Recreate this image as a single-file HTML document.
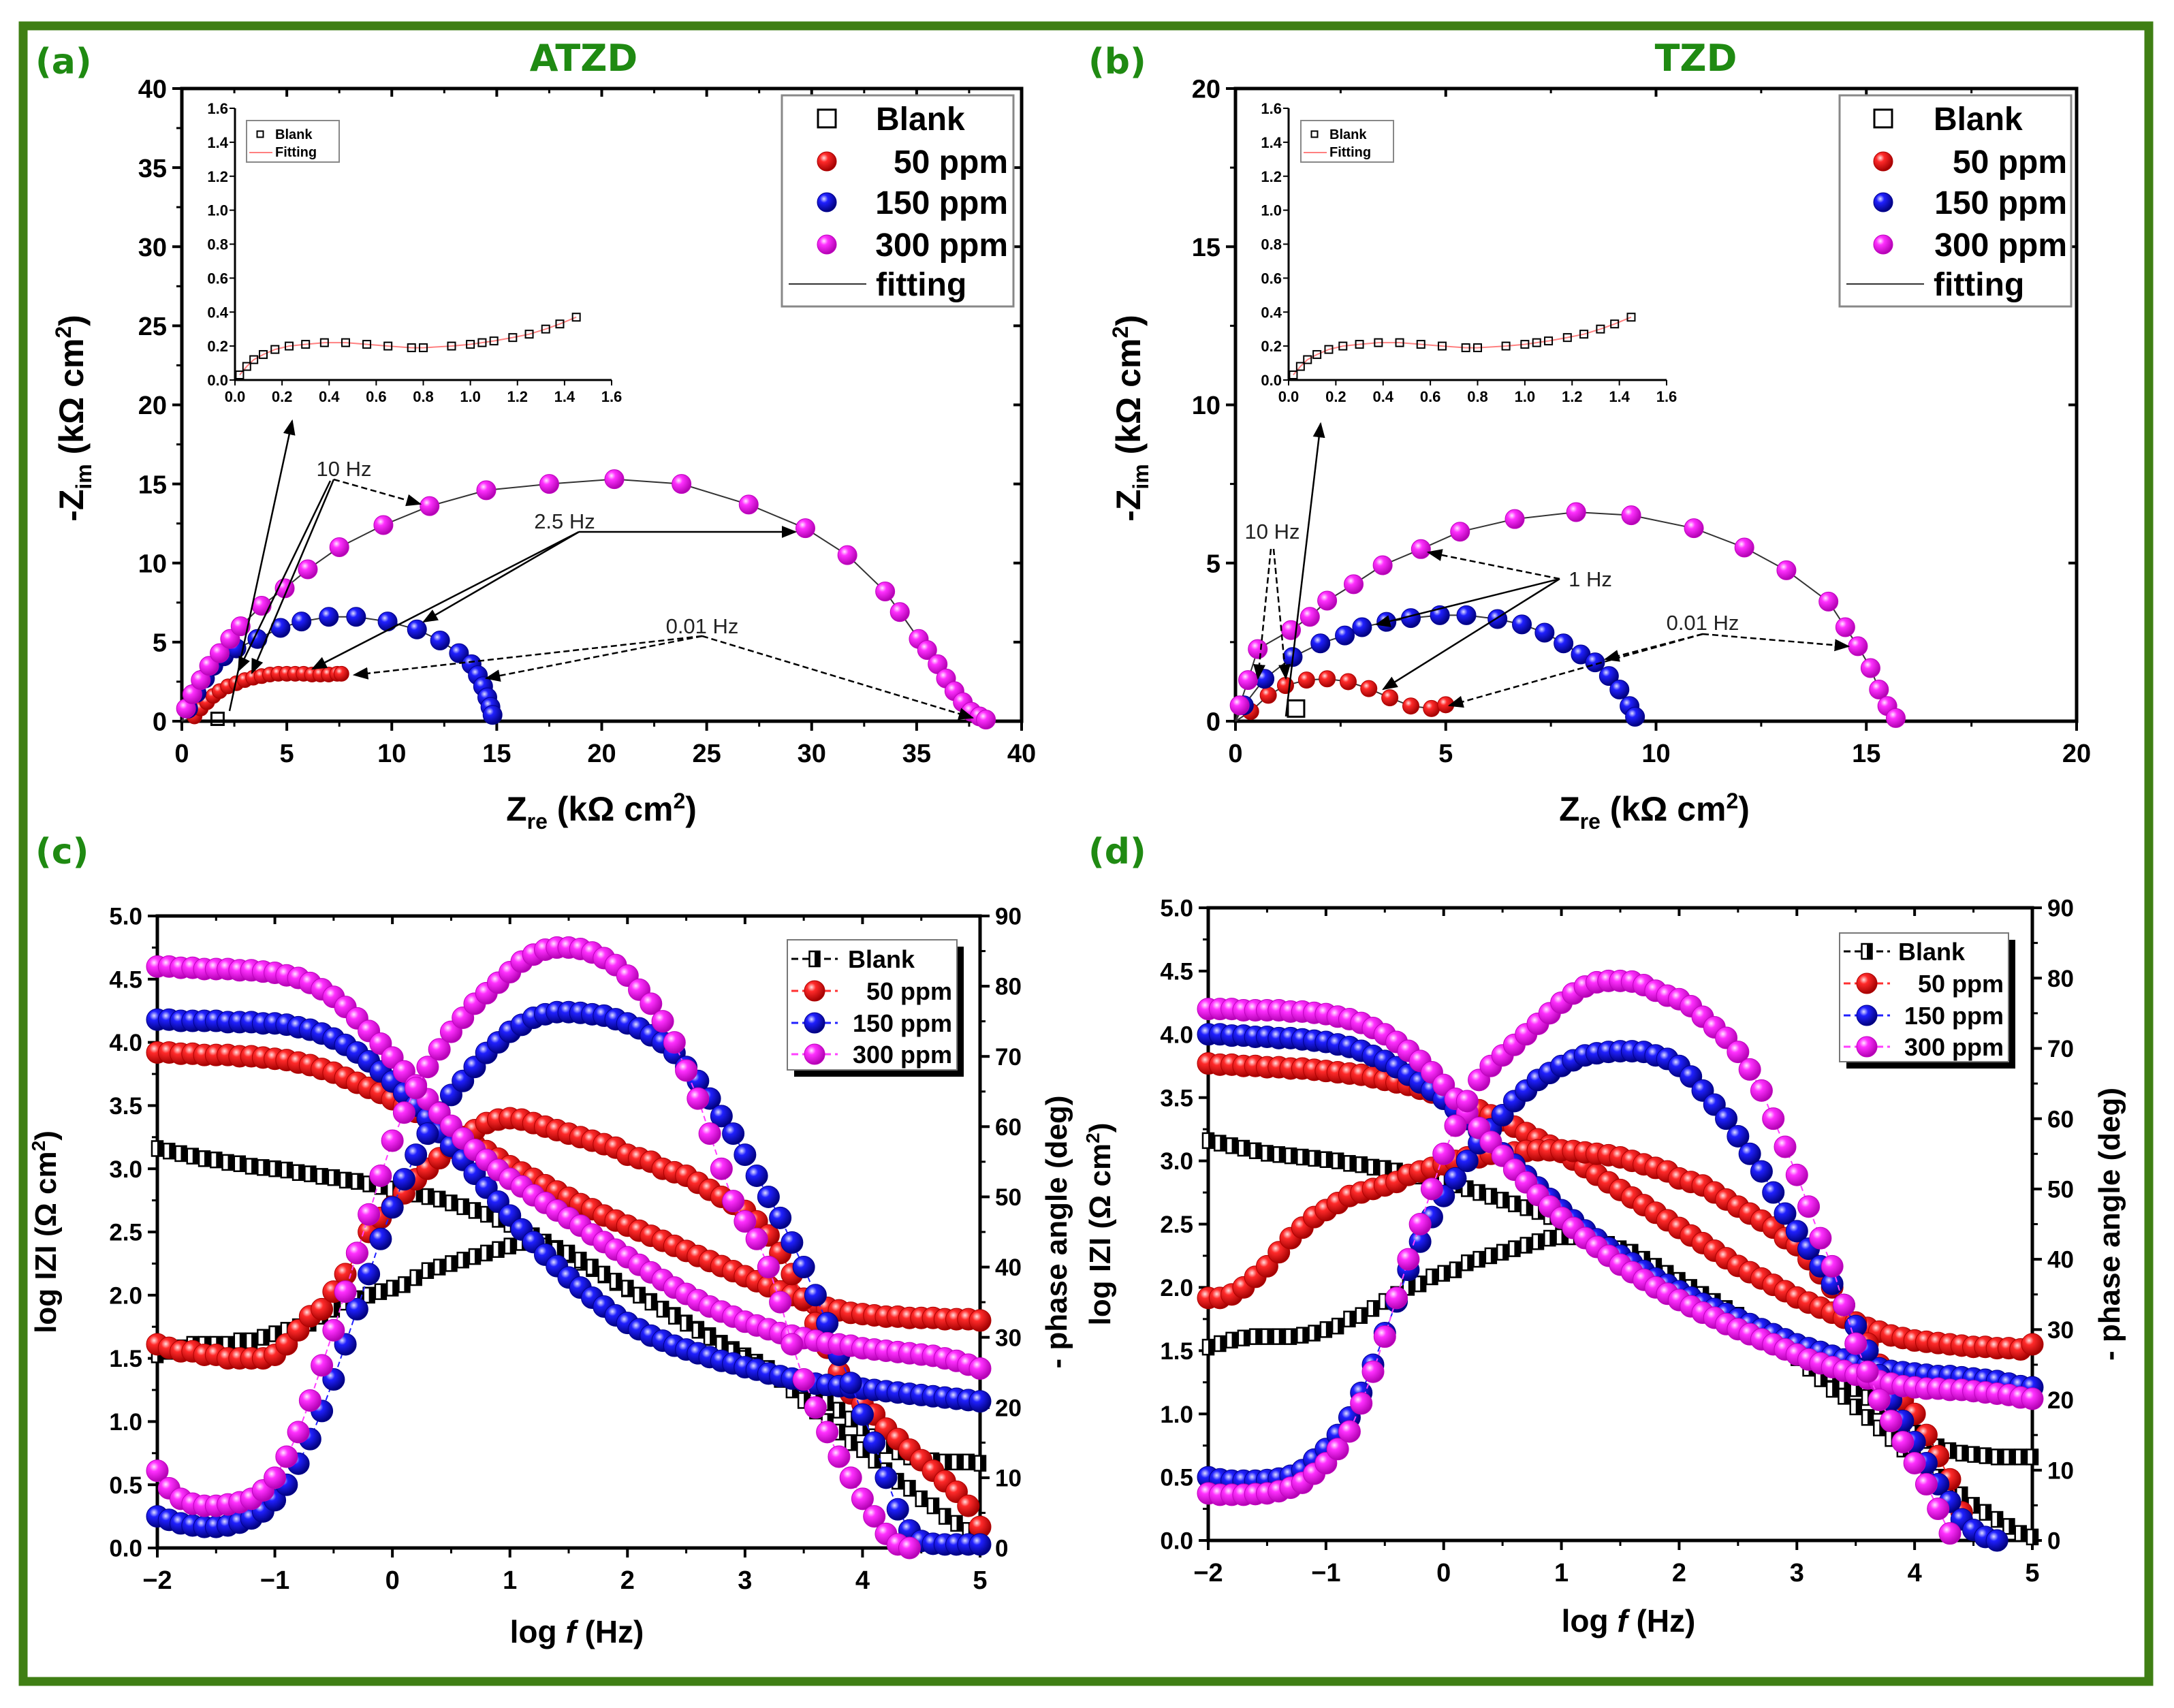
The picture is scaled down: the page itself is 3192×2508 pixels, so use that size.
<!DOCTYPE html>
<html><head><meta charset="utf-8"><title>EIS plots ATZD / TZD</title>
<style>
html,body{margin:0;padding:0;background:#fff;}
svg{display:block;font-family:"Liberation Sans",Arial,sans-serif;}
</style></head>
<body>
<svg id="fig" xmlns="http://www.w3.org/2000/svg" width="3192" height="2508" viewBox="0 0 3192 2508">
<defs>
<radialGradient id="gR" cx="35%" cy="32%" r="70%"><stop offset="0" stop-color="#ffe0e0"/><stop offset="0.3" stop-color="#ff2a2a"/><stop offset="1" stop-color="#a00000"/></radialGradient>
<radialGradient id="gB" cx="35%" cy="32%" r="70%"><stop offset="0" stop-color="#e0e0ff"/><stop offset="0.3" stop-color="#2020ff"/><stop offset="1" stop-color="#00007a"/></radialGradient>
<radialGradient id="gM" cx="35%" cy="32%" r="70%"><stop offset="0" stop-color="#ffe8ff"/><stop offset="0.3" stop-color="#ff30ff"/><stop offset="1" stop-color="#b000b0"/></radialGradient>
<marker id="arr" viewBox="0 0 10 10" refX="9" refY="5" markerWidth="9" markerHeight="9" orient="auto-start-reverse"><path d="M0,1 L10,5 L0,9 z" fill="#000"/></marker>
</defs>
<rect x="34" y="38" width="3121" height="2431" fill="none" stroke="#3f7f14" stroke-width="13"/>
<text x="52" y="108" font-family="DejaVu Sans" font-weight="bold" font-size="52" fill="#1f8a12">(a)</text>
<text x="857" y="104" text-anchor="middle" font-family="DejaVu Sans" font-weight="bold" font-size="54" fill="#1f8a12">ATZD</text>
<text x="1598" y="108" font-family="DejaVu Sans" font-weight="bold" font-size="52" fill="#1f8a12">(b)</text>
<text x="2490" y="104" text-anchor="middle" font-family="DejaVu Sans" font-weight="bold" font-size="54" fill="#1f8a12">TZD</text>
<text x="52" y="1268" font-family="DejaVu Sans" font-weight="bold" font-size="52" fill="#1f8a12">(c)</text>
<text x="1598" y="1268" font-family="DejaVu Sans" font-weight="bold" font-size="52" fill="#1f8a12">(d)</text>
</svg>
<script>
// ---------- DATA ----------
const aBlankX=[1.7];
const aBlankY=[0.15];
const a50X=[0.6,0.9,1.2,1.5,1.8,2.2,2.6,3.0,3.4,3.8,4.2,4.6,5.0,5.4,5.8,6.2,6.6,7.0,7.4,7.6];
const a50Y=[0.3,0.8,1.2,1.6,1.9,2.2,2.4,2.6,2.75,2.85,2.95,3.0,3.0,3.0,3.0,2.95,2.95,2.95,3.0,3.0];
const a150X=[0.3,0.7,1.1,1.5,2.0,2.6,3.6,4.7,5.7,7.0,8.3,9.8,11.2,12.3,13.2,13.8,14.1,14.35,14.55,14.7,14.8];
const a150Y=[0.8,1.8,2.7,3.5,4.1,4.6,5.2,5.9,6.3,6.6,6.6,6.3,5.8,5.1,4.3,3.6,2.9,2.2,1.5,0.9,0.4];
const a300X=[0.2,0.5,0.9,1.3,1.8,2.3,2.8,3.8,4.9,6.0,7.5,9.6,11.8,14.5,17.5,20.6,23.8,27.0,29.7,31.7,33.5,34.2,35.1,35.5,36.0,36.4,36.8,37.2,37.6,38.0,38.3];
const a300Y=[0.8,1.7,2.6,3.5,4.3,5.2,6.0,7.3,8.4,9.6,11.0,12.4,13.6,14.6,15.0,15.3,15.0,13.7,12.2,10.5,8.2,6.9,5.2,4.5,3.6,2.7,1.9,1.2,0.6,0.3,0.1];
const bBlankX=[1.44];
const bBlankY=[0.4];
const b50X=[0.36,0.78,1.19,1.69,2.18,2.68,3.17,3.67,4.17,4.66,5.0];
const b50Y=[0.31,0.82,1.13,1.30,1.34,1.25,1.03,0.74,0.48,0.40,0.52];
const b150X=[0.2,0.69,1.36,2.02,2.60,3.01,3.59,4.17,4.86,5.49,6.23,6.81,7.35,7.80,8.21,8.55,8.88,9.13,9.37,9.50];
const b150Y=[0.5,1.34,2.03,2.46,2.71,2.97,3.14,3.26,3.35,3.35,3.23,3.06,2.80,2.46,2.11,1.86,1.43,1.00,0.48,0.14];
const b300X=[0.1,0.3,0.53,1.32,1.77,2.18,2.81,3.50,4.41,5.34,6.64,8.10,9.41,10.9,12.1,13.1,14.1,14.5,14.8,15.1,15.3,15.5,15.7];
const b300Y=[0.5,1.3,2.28,2.88,3.30,3.81,4.33,4.93,5.44,5.99,6.39,6.61,6.51,6.10,5.49,4.77,3.78,2.97,2.37,1.68,1.00,0.48,0.10];
const insetX=[0.02,0.05,0.08,0.12,0.17,0.23,0.3,0.38,0.47,0.56,0.65,0.75,0.8,0.92,1.0,1.05,1.1,1.18,1.25,1.32,1.38,1.45];
const insetY=[0.03,0.08,0.12,0.15,0.18,0.2,0.21,0.22,0.22,0.21,0.2,0.19,0.19,0.2,0.21,0.22,0.23,0.25,0.27,0.3,0.33,0.37];
const logF=[-2,-1.9,-1.8,-1.7,-1.6,-1.5,-1.4,-1.3,-1.2,-1.1,-1,-0.9,-0.8,-0.7,-0.6,-0.5,-0.4,-0.3,-0.2,-0.1,0,0.1,0.2,0.3,0.4,0.5,0.6,0.7,0.8,0.9,1,1.1,1.2,1.3,1.4,1.5,1.6,1.7,1.8,1.9,2,2.1,2.2,2.3,2.4,2.5,2.6,2.7,2.8,2.9,3,3.1,3.2,3.3,3.4,3.5,3.6,3.7,3.8,3.9,4,4.1,4.2,4.3,4.4,4.5,4.6,4.7,4.8,4.9,5];
const cBlankZ=[3.16,3.14,3.12,3.10,3.08,3.07,3.05,3.04,3.02,3.01,3.00,2.99,2.97,2.96,2.94,2.93,2.91,2.90,2.88,2.86,2.84,2.82,2.80,2.78,2.76,2.73,2.70,2.67,2.64,2.60,2.56,2.52,2.47,2.42,2.37,2.32,2.26,2.21,2.16,2.10,2.05,2.00,1.95,1.89,1.84,1.78,1.73,1.68,1.62,1.57,1.52,1.47,1.42,1.37,1.31,1.26,1.21,1.15,1.09,1.02,0.95,0.88,0.81,0.76,0.72,0.70,0.69,0.68,0.68,0.68,0.67];
const cBlankP=[27.5,28,28.5,29,29,29,29,29.5,29.5,30,30.5,31,31.5,32,33,34,35,35.5,36,36.5,37,37.5,38.5,39.5,40,40.5,41,41.5,42,42.5,43,43.5,43.5,43,42.5,42,41,40,39,38,37,36,35,34,33,32,31,30,29,28,27,26,25,24,22.5,21,19.5,18,16.5,15,14,12.5,11,9.5,8.5,7,6,4.5,3.5,2.5,1.5];
const c50Z=[3.92,3.92,3.91,3.91,3.90,3.90,3.90,3.89,3.89,3.88,3.87,3.86,3.84,3.82,3.79,3.76,3.72,3.68,3.64,3.60,3.55,3.50,3.45,3.40,3.35,3.30,3.25,3.19,3.14,3.08,3.02,2.97,2.92,2.87,2.82,2.77,2.72,2.68,2.63,2.59,2.55,2.51,2.47,2.43,2.39,2.35,2.31,2.27,2.23,2.19,2.15,2.11,2.07,2.03,2.00,1.96,1.93,1.90,1.88,1.86,1.85,1.84,1.83,1.83,1.82,1.82,1.82,1.81,1.81,1.81,1.80];
const c50P=[29,28.5,28,28,27.5,27.5,27,27,27,27,27.5,29,31,33,34,36.5,39,42,45,47,48.6,50.5,52.5,54,55.5,57,58.5,59.5,60.5,61,61.2,61,60.5,60,59.5,59,58.5,58,57.5,57,56,55.5,55,54,53.5,53,52,51,50,49,48,46.5,44.5,42,39,35.5,32,28.5,25,22,20.5,19,17,15.5,14,12.5,11,9.5,8,6,3];
const c150Z=[4.18,4.18,4.17,4.17,4.17,4.17,4.16,4.16,4.16,4.15,4.15,4.14,4.12,4.10,4.07,4.03,3.98,3.92,3.85,3.77,3.69,3.60,3.50,3.40,3.29,3.18,3.07,2.96,2.85,2.74,2.63,2.52,2.42,2.32,2.23,2.14,2.06,1.98,1.91,1.84,1.78,1.73,1.68,1.64,1.60,1.57,1.54,1.51,1.48,1.46,1.43,1.41,1.38,1.36,1.34,1.32,1.30,1.29,1.28,1.27,1.26,1.25,1.24,1.23,1.22,1.21,1.20,1.19,1.18,1.17,1.16];
const c150P=[4.5,4,3.5,3.2,3,3,3.2,3.6,4.2,5.2,6.8,9,12,15.5,19.5,24,29,34,39,44,48.5,52.5,56,59,62,64.5,66.5,68.5,70.5,72,73.5,74.5,75.5,76,76.3,76.3,76.2,76,75.8,75.3,74.7,74,73,72,70.5,68.5,66.5,64,61.5,59,56,53,50,47,43.5,40,36,32,27.5,23.5,19,15,10,5.5,2.5,1,0.6,0.5,0.5,0.5,0.5];
const c300Z=[4.60,4.60,4.59,4.59,4.58,4.58,4.58,4.57,4.57,4.56,4.55,4.53,4.51,4.47,4.42,4.36,4.28,4.19,4.09,3.99,3.88,3.77,3.66,3.55,3.44,3.34,3.24,3.15,3.07,2.99,2.92,2.86,2.79,2.73,2.67,2.61,2.55,2.48,2.42,2.36,2.30,2.24,2.18,2.12,2.06,2.01,1.96,1.91,1.87,1.83,1.79,1.76,1.73,1.70,1.68,1.66,1.64,1.62,1.61,1.60,1.58,1.57,1.56,1.55,1.54,1.53,1.52,1.50,1.48,1.45,1.42];
const c300P=[11,8.5,7,6.3,6,6,6.2,6.5,7,8.2,10,13,16.5,21,26,31,36.5,42,47.5,53,58,62,65.5,68.5,71,73.5,75.5,77.5,79,80.5,82,83.5,84.5,85.2,85.5,85.5,85.3,84.8,84,83,81.5,79.5,77.5,75,72,68,64,59,54,49.4,46.5,44,40,35,29,24,20,16.5,13,10,7,4.5,2,0.5,0,null,null,null,null,null,null];
const dBlankZ=[3.16,3.14,3.12,3.10,3.08,3.06,3.05,3.04,3.03,3.02,3.01,3.00,2.98,2.97,2.95,2.94,2.92,2.90,2.88,2.86,2.84,2.81,2.78,2.75,2.72,2.69,2.66,2.63,2.60,2.56,2.52,2.48,2.44,2.39,2.34,2.29,2.24,2.19,2.13,2.08,2.03,1.98,1.93,1.88,1.83,1.78,1.72,1.67,1.62,1.56,1.50,1.44,1.38,1.32,1.26,1.20,1.13,1.06,0.99,0.92,0.85,0.79,0.74,0.71,0.69,0.68,0.67,0.66,0.66,0.66,0.66];
const dBlankP=[27.5,28,28.5,28.8,29,29,29,29,29.2,29.5,30,30.5,31.5,32,33,34,35,36,36.5,37.5,38,38.5,39.5,40,40.5,41,41.5,42,42.5,43,43.2,43.2,43,42.5,42,41.5,41,40,39,38,37,36,35,34,33,31.5,30.5,29.5,28,27,26,24.5,23,21.5,20.5,19,17.5,16,14.5,13,11.5,10,9,7.5,6.5,5,4,3,2,1,0.5];
const d50Z=[3.77,3.76,3.76,3.75,3.75,3.74,3.74,3.73,3.73,3.72,3.71,3.70,3.69,3.68,3.66,3.64,3.62,3.60,3.57,3.54,3.51,3.48,3.44,3.40,3.36,3.32,3.27,3.22,3.17,3.12,3.07,3.01,2.95,2.89,2.83,2.77,2.71,2.65,2.59,2.53,2.47,2.41,2.35,2.29,2.23,2.17,2.12,2.07,2.02,1.97,1.92,1.88,1.84,1.80,1.76,1.72,1.68,1.65,1.62,1.60,1.58,1.57,1.56,1.55,1.54,1.53,1.53,1.52,1.52,1.51,1.55];
const d50P=[34.5,34.5,35,36,37.5,39,41,43,44.5,46,47,48,49,49.5,50,50.5,51,52,52.5,53,53.5,54,54.5,54.5,55,55,55.2,55.4,55.5,55.5,55.5,55.4,55.2,55,54.8,54.5,54,53.5,53,52.5,51.5,51,50.5,49.5,48.5,47.5,46.5,45.5,44.5,43,42,40,38,36,33.5,31,28,25,22,20,18,15,12,8.7,4,null,null,null,null,null,null];
const d150Z=[4.00,4.00,3.99,3.99,3.98,3.98,3.97,3.97,3.96,3.95,3.94,3.92,3.90,3.87,3.83,3.79,3.74,3.68,3.62,3.56,3.49,3.41,3.33,3.24,3.15,3.06,2.97,2.88,2.79,2.70,2.61,2.53,2.45,2.38,2.31,2.25,2.19,2.13,2.07,2.02,1.97,1.92,1.87,1.83,1.79,1.75,1.71,1.67,1.63,1.59,1.55,1.52,1.49,1.46,1.43,1.40,1.38,1.36,1.34,1.33,1.32,1.31,1.30,1.30,1.29,1.28,1.27,1.26,1.24,1.22,1.21];
const d150P=[9,8.7,8.5,8.5,8.5,8.6,8.8,9.2,10,11.5,13,15,17.5,21,25,29.5,34,38.5,42.5,46,49,51.5,54,56.5,58.5,60.5,62.5,64,65.5,66.5,67.5,68.3,69,69.3,69.5,69.6,69.6,69.5,69,68.5,67.5,66,64,62,60,57.5,55,52.5,49.5,46.5,44,41.5,39,36.5,33.5,30.5,27,23.5,20,17,14,11,8,5.5,3,1.5,0.5,0,null,null,null];
const d300Z=[4.20,4.20,4.20,4.19,4.19,4.19,4.19,4.18,4.18,4.17,4.16,4.14,4.12,4.09,4.05,4.00,3.94,3.87,3.79,3.70,3.60,3.49,3.38,3.26,3.15,3.04,2.93,2.83,2.73,2.64,2.55,2.47,2.39,2.32,2.25,2.18,2.12,2.06,2.00,1.95,1.90,1.85,1.80,1.76,1.71,1.67,1.63,1.59,1.55,1.51,1.47,1.43,1.40,1.37,1.34,1.31,1.28,1.26,1.24,1.22,1.21,1.20,1.20,1.19,1.19,1.18,1.17,1.16,1.15,1.13,1.12];
const d300P=[6.7,6.5,6.5,6.5,6.6,6.7,7,7.5,8.2,9.5,11,13,15.5,19.5,24,29,34.5,40,45,50,55,59,62.5,65.5,67.5,69,70.5,72,73.5,75,76.5,77.8,78.8,79.4,79.6,79.6,79.5,79,78.2,77.5,77,76,74.5,73,71.5,69.5,67,64,60,56,52,47.5,43,39,33.5,28,24,20,17,14,11,8,4.5,1,null,null,null,null,null,null,null];
const nyqATicks=[0,5,10,15,20,25,30,35,40];
const nyqBTicks=[0,5,10,15,20];
const insetTicks=[0,0.2,0.4,0.6,0.8,1.0,1.2,1.4,1.6];
const bodeXTicks=[-2,-1,0,1,2,3,4,5];
const bodeZTicks=[0,0.5,1,1.5,2,2.5,3,3.5,4,4.5,5];
const bodePTicks=[0,10,20,30,40,50,60,70,80,90];
const seriesNames=['Blank','50 ppm','150 ppm','300 ppm'];

// ---------- HELPERS ----------
const NS='http://www.w3.org/2000/svg';
const svg=document.getElementById('fig');
function mk(parent,tag,attrs,text){const e=document.createElementNS(NS,tag);for(const k in attrs)e.setAttribute(k,attrs[k]);if(text!=null)e.textContent=text;parent.appendChild(e);return e;}
function lin(d0,d1,p0,p1){return v=>p0+(v-d0)*(p1-p0)/(d1-d0);}
const COL={r:{g:'url(#gR)',s:'#b00000',l:'#ff3030'},b:{g:'url(#gB)',s:'#000090',l:'#2020ff'},m:{g:'url(#gM)',s:'#c000c0',l:'#ff40ff'}};

function frameAxes(g,px0,px1,py0,py1,name){
  const r=mk(g,'rect',{x:px0,y:py1,width:px1-px0,height:py0-py1,fill:'none',stroke:'#000','stroke-width':5});
  
  
}
function xTicks(g,ticks,sx,py0,py1,fs,fmt,name){
  ticks.forEach((t,i)=>{
    const x=sx(t);
    const tk=mk(g,'line',{x1:x,x2:x,y1:py0,y2:py0+14,stroke:'#000','stroke-width':4});
    
    
    mk(g,'line',{x1:x,x2:x,y1:py1,y2:py1+12,stroke:'#000','stroke-width':4});
    const lb=mk(g,'text',{x:x,y:py0+fs+22,'text-anchor':'middle','font-size':fs,'font-weight':'bold'},fmt(t));
    
    
    if(i<ticks.length-1){const xm=(x+sx(ticks[i+1]))/2;
      mk(g,'line',{x1:xm,x2:xm,y1:py0,y2:py0+8,stroke:'#000','stroke-width':3});
      mk(g,'line',{x1:xm,x2:xm,y1:py1,y2:py1+7,stroke:'#000','stroke-width':3});}
  });
}
function yTicks(g,ticks,sy,px0,px1,fs,fmt,name,side){
  ticks.forEach((t,i)=>{
    const y=sy(t);
    const dir=side==='right'?1:-1, ax=side==='right'?px1:px0;
    const tk=mk(g,'line',{x1:ax,x2:ax+dir*14,y1:y,y2:y,stroke:'#000','stroke-width':4});
    
    
    const lb=mk(g,'text',{x:ax+dir*22,y:y+fs*0.36,'text-anchor':side==='right'?'start':'end','font-size':fs,'font-weight':'bold'},fmt(t));
    
    
    if(i<ticks.length-1){const ym=(y+sy(ticks[i+1]))/2;
      mk(g,'line',{x1:ax,x2:ax+dir*8,y1:ym,y2:ym,stroke:'#000','stroke-width':3});}
  });
}
function sphere(g,x,y,c,r,name){
  const e=mk(g,'circle',{cx:x,cy:y,r:r,fill:c.g,stroke:c.s,'stroke-width':1});
  
  
}
function halfSquare(g,x,y,w,h,name){
  const e=mk(g,'rect',{x:x-w/2,y:y-h/2,width:w,height:h,fill:'#fff',stroke:'#000','stroke-width':2.5});
  
  
  mk(g,'rect',{x:x,y:y-h/2,width:w/2,height:h,fill:'#000'});
}
function openSquare(g,x,y,s,sw,name){
  const e=mk(g,'rect',{x:x-s/2,y:y-s/2,width:s,height:s,fill:'none',stroke:'#000','stroke-width':sw});
  
  
}
function polyPts(xs,ys,sx,sy){return xs.map((v,i)=>ys[i]==null?null:sx(v)+','+sy(ys[i])).filter(p=>p).join(' ');}
function arrow(g,x1,y1,x2,y2,dash,name){
  const a={x1:x1,y1:y1,x2:x2,y2:y2,stroke:'#000','stroke-width':2.5,'marker-end':'url(#arr)'};
  if(dash)a['stroke-dasharray']='9 5';
  const e=mk(g,'line',a);
  
  
}
function note(g,x,y,t,name){
  const e=mk(g,'text',{x:x,y:y,'text-anchor':'middle','font-size':31,fill:'#222'},t);
  
  
}

// ---------- NYQUIST ----------
function nyquist(cfg){
  const g=mk(svg,'g',{});
  
  
  const sx=lin(0,cfg.max,cfg.px0,cfg.px1), sy=lin(0,cfg.max,cfg.py0,cfg.py1);
  frameAxes(g,cfg.px0,cfg.px1,cfg.py0,cfg.py1,cfg.name);
  xTicks(g,cfg.ticks,sx,cfg.py0,cfg.py1,38,t=>String(t),cfg.name+'-x');
  yTicks(g,cfg.ticks,sy,cfg.px0,cfg.px1,38,t=>String(t),cfg.name+'-y','left');
  cfg.ticks.forEach(t=>mk(g,'line',{x1:cfg.px1,x2:cfg.px1-12,y1:sy(t),y2:sy(t),stroke:'#000','stroke-width':4}));
  const yt=mk(g,'text',{x:0,y:0,transform:`translate(${cfg.ytx},614) rotate(-90)`,'text-anchor':'middle','font-size':50,'font-weight':'bold'});
  
  
  yt.innerHTML='-Z<tspan font-size="32" dy="12">im</tspan><tspan dy="-12"> (kΩ cm</tspan><tspan font-size="32" dy="-18">2</tspan><tspan dy="18">)</tspan>';
  const xt=mk(g,'text',{x:cfg.xtx,y:1205,'text-anchor':'middle','font-size':50,'font-weight':'bold'});
  
  
  xt.innerHTML='Z<tspan font-size="32" dy="12">re</tspan><tspan dy="-12"> (kΩ cm</tspan><tspan font-size="32" dy="-18">2</tspan><tspan dy="18">)</tspan>';
  [[cfg.d50x,cfg.d50y],[cfg.d150x,cfg.d150y],[cfg.d300x,cfg.d300y]].forEach(s=>{
    const pl=mk(g,'polyline',{points:sx(0)+','+sy(0)+' '+polyPts(s[0],s[1],sx,sy),fill:'none',stroke:'#333','stroke-width':2});
    
    
  });
  cfg.d50x.forEach((v,i)=>sphere(g,sx(v),sy(cfg.d50y[i]),COL.r,cfg.r50,'point-50ppm'));
  cfg.d150x.forEach((v,i)=>sphere(g,sx(v),sy(cfg.d150y[i]),COL.b,14,'point-150ppm'));
  cfg.d300x.forEach((v,i)=>sphere(g,sx(v),sy(cfg.d300y[i]),COL.m,14,'point-300ppm'));
  cfg.blx.forEach((v,i)=>openSquare(g,sx(v),sy(cfg.bly[i]),cfg.blS,3,'point-blank'));
  cfg.notes.forEach(n=>note(g,n[0],n[1],n[2],'frequency-annotation'));
  cfg.arrows.forEach(a=>arrow(g,a[0],a[1],a[2],a[3],a[4],'annotation-arrow'));
  const ig=mk(g,'g',{});
  
  
  const ix=lin(0,1.6,cfg.ix0,cfg.ix1), iy=lin(0,1.6,558,159);
  mk(ig,'line',{x1:cfg.ix0,y1:558,x2:cfg.ix1,y2:558,stroke:'#000','stroke-width':3});
  mk(ig,'line',{x1:cfg.ix0,y1:558,x2:cfg.ix0,y2:159,stroke:'#000','stroke-width':3});
  insetTicks.forEach(t=>{
    mk(ig,'line',{x1:ix(t),x2:ix(t),y1:558,y2:566,stroke:'#000','stroke-width':2});
    mk(ig,'line',{x1:cfg.ix0,x2:cfg.ix0-8,y1:iy(t),y2:iy(t),stroke:'#000','stroke-width':2});
    const a=mk(ig,'text',{x:ix(t),y:590,'text-anchor':'middle','font-size':22,'font-weight':'bold'},t.toFixed(1));
    
    
    const b=mk(ig,'text',{x:cfg.ix0-10,y:iy(t)+8,'text-anchor':'end','font-size':22,'font-weight':'bold'},t.toFixed(1));
    
    
  });
  const ifit=mk(ig,'polyline',{points:polyPts(insetX,insetY,ix,iy),fill:'none',stroke:'#ff8080','stroke-width':2});
  
  
  insetX.forEach((v,i)=>openSquare(ig,ix(v),iy(insetY[i]),11,2,'inset-blank-point'));
  const lb=mk(ig,'rect',{x:cfg.ilx,y:177,width:136,height:61,fill:'#fff',stroke:'#888','stroke-width':2});
  
  
  openSquare(ig,cfg.ilx+20,197,9,2,'inset-legend-blank-symbol');
  const t1=mk(ig,'text',{x:cfg.ilx+42,y:204,'font-size':20,'font-weight':'bold'},'Blank');
  
  
  mk(ig,'line',{x1:cfg.ilx+4,x2:cfg.ilx+38,y1:224,y2:224,stroke:'#ff8080','stroke-width':2});
  const t2=mk(ig,'text',{x:cfg.ilx+42,y:230,'font-size':20,'font-weight':'bold'},'Fitting');
  
  
  const L=cfg.leg;
  const lr=mk(g,'rect',{x:L.x0,y:140,width:L.x1-L.x0,height:310,fill:'#fff',stroke:'#888','stroke-width':3});
  
  
  const ys=[174,237,297,359,417];
  openSquare(g,L.sym,ys[0],26,3,'legend-blank-symbol');
  sphere(g,L.sym,ys[1],COL.r,14,'legend-50ppm-symbol');
  sphere(g,L.sym,ys[2],COL.b,14,'legend-150ppm-symbol');
  sphere(g,L.sym,ys[3],COL.m,14,'legend-300ppm-symbol');
  mk(g,'line',{x1:L.x0+10,x2:L.txt-14,y1:ys[4],y2:ys[4],stroke:'#333','stroke-width':2});
  const e0=mk(g,'text',{x:L.txt,y:ys[0]+17,'font-size':48,'font-weight':'bold'},seriesNames[0]);
  
  
  [1,2,3].forEach(k=>{
    const e=mk(g,'text',{x:L.end,y:ys[k]+17,'text-anchor':'end','font-size':48,'font-weight':'bold'},seriesNames[k]);
    
    
  });
  const ef=mk(g,'text',{x:L.txt,y:ys[4]+17,'font-size':48,'font-weight':'bold'},'fitting');
  
  
}

nyquist({name:'panel-a-nyquist',max:40,px0:267,px1:1500,py0:1059,py1:130,ticks:nyqATicks,ytx:122,xtx:883,
  d50x:a50X,d50y:a50Y,d150x:a150X,d150y:a150Y,d300x:a300X,d300y:a300Y,blx:aBlankX,bly:aBlankY,r50:11,blS:18,
  ix0:345,ix1:898,ilx:362,leg:{x0:1148,x1:1488,sym:1214,txt:1286,end:1480},
  notes:[[505,699,'10 Hz'],[829,776,'2.5 Hz'],[1031,930,'0.01 Hz']],
  arrows:[[337,1044,429,618,false],[490,704,617,740,true],[490,704,370,988,false],[485,706,350,985,false],
          [850,781,1168,781,false],[850,781,622,913,false],[850,781,459,982,false],
          [1031,934,520,991,true],[1031,934,714,996,true],[1031,934,1428,1054,true]]});
nyquist({name:'panel-b-nyquist',max:20,px0:1814,px1:3049,py0:1059,py1:130,ticks:nyqBTicks,ytx:1674,xtx:2429,
  d50x:b50X,d50y:b50Y,d150x:b150X,d150y:b150Y,d300x:b300X,d300y:b300Y,blx:bBlankX,bly:bBlankY,r50:12,blS:24,
  ix0:1892,ix1:2447,ilx:1910,leg:{x0:2701,x1:3041,sym:2765,txt:2839,end:3035},
  notes:[[1868,791,'10 Hz'],[2335,861,'1 Hz'],[2500,925,'0.01 Hz']],
  arrows:[[1888,1052,1939,622,false],[1866,806,1847,996,true],[1870,806,1888,996,true],
          [2290,850,2097,811,true],[2290,850,2021,917,false],[2290,850,2031,1012,false],
          [2500,931,2714,949,true],[2500,931,2357,968,true],[2500,931,2128,1036,true]]});

// ---------- BODE ----------
function bode(cfg){
  const g=mk(svg,'g',{});
  
  
  const sx=lin(-2,5,cfg.px0,cfg.px1), sz=lin(0,5,cfg.py0,cfg.py1), sp=lin(0,90,cfg.py0,cfg.py1);
  frameAxes(g,cfg.px0,cfg.px1,cfg.py0,cfg.py1,cfg.name);
  xTicks(g,bodeXTicks,sx,cfg.py0,cfg.py1,38,t=>t<0?'\u2212'+(-t):String(t),cfg.name+'-x');
  yTicks(g,bodeZTicks,sz,cfg.px0,cfg.px1,35,t=>t.toFixed(1),cfg.name+'-y-left','left');
  yTicks(g,bodePTicks,sp,cfg.px0,cfg.px1,35,t=>String(t),cfg.name+'-y-right','right');
  const yt=mk(g,'text',{x:0,y:0,transform:`translate(${cfg.ylx},${(cfg.py0+cfg.py1)/2}) rotate(-90)`,'text-anchor':'middle','font-size':44,'font-weight':'bold'});
  
  
  yt.innerHTML='log IZI (Ω cm<tspan font-size="28" dy="-16">2</tspan><tspan dy="16">)</tspan>';
  const yr=mk(g,'text',{x:0,y:0,transform:`translate(${cfg.yrx},${(cfg.py0+cfg.py1)/2}) rotate(-90)`,'text-anchor':'middle','font-size':44,'font-weight':'bold'},'- phase angle (deg)');
  
  
  const xt=mk(g,'text',{x:cfg.xtx,y:cfg.xty,'text-anchor':'middle','font-size':46,'font-weight':'bold'});
  
  
  xt.innerHTML='log <tspan font-style="italic">f</tspan> (Hz)';
  const S=cfg.s;
  [[S.bz,sz],[S.bp,sp]].forEach(([arr,sc])=>{
    logF.forEach((f,i)=>{if(arr[i]!=null)halfSquare(g,sx(f),sc(arr[i]),16,22,'point-blank');});
  });
  [[S.rz,S.rp,COL.r,'50ppm'],[S.bbz,S.bbp,COL.b,'150ppm'],[S.mz,S.mp,COL.m,'300ppm']].forEach(([za,pa,c,n])=>{
    [[za,sz],[pa,sp]].forEach(([arr,sc])=>{
      const pl=mk(g,'polyline',{points:polyPts(logF,arr,sx,sc),fill:'none',stroke:c.l,'stroke-width':2,'stroke-dasharray':'8 5'});
      
      
      logF.forEach((f,i)=>{if(arr[i]!=null)sphere(g,sx(f),sc(arr[i]),c,16,'point-'+n);});
    });
  });
  const L=cfg.leg;
  mk(g,'rect',{x:L.x0+10,y:L.y0+10,width:L.x1-L.x0,height:L.y1-L.y0,fill:'#000'});
  const lr=mk(g,'rect',{x:L.x0,y:L.y0,width:L.x1-L.x0,height:L.y1-L.y0,fill:'#fff',stroke:'#777','stroke-width':2});
  
  
  const cols=['#000',COL.r.l,COL.b.l,COL.m.l];
  L.ys.forEach((y,k)=>{
    mk(g,'line',{x1:L.x0+6,x2:L.x0+74,y1:y,y2:y,stroke:cols[k],'stroke-width':3,'stroke-dasharray':'10 6'});
    if(k===0)halfSquare(g,L.x0+40,y,15,22,'legend-blank-symbol');
    else sphere(g,L.x0+40,y,[null,COL.r,COL.b,COL.m][k],15,'legend-symbol');
    const t=mk(g,'text',k===0?{x:L.tx,y:y+13,'font-size':36,'font-weight':'bold'}:{x:L.te,y:y+13,'text-anchor':'end','font-size':36,'font-weight':'bold'},seriesNames[k]);
    
    
  });
}
bode({name:'panel-c-bode',px0:231,px1:1439,py0:2273,py1:1345,ylx:82,yrx:1566,xtx:847,xty:2412,
  s:{bz:cBlankZ,bp:cBlankP,rz:c50Z,rp:c50P,bbz:c150Z,bbp:c150P,mz:c300Z,mp:c300P},
  leg:{x0:1156,x1:1405,y0:1380,y1:1571,ys:[1408,1455,1502,1548],tx:1245,te:1398}});
bode({name:'panel-d-bode',px0:1774,px1:2984,py0:2262,py1:1333,ylx:1630,yrx:3112,xtx:2391,xty:2396,
  s:{bz:dBlankZ,bp:dBlankP,rz:d50Z,rp:d50P,bbz:d150Z,bbp:d150P,mz:d300Z,mp:d300P},
  leg:{x0:2701,x1:2949,y0:1370,y1:1559,ys:[1397,1444,1491,1537],tx:2787,te:2942}});
</script>
</body></html>
